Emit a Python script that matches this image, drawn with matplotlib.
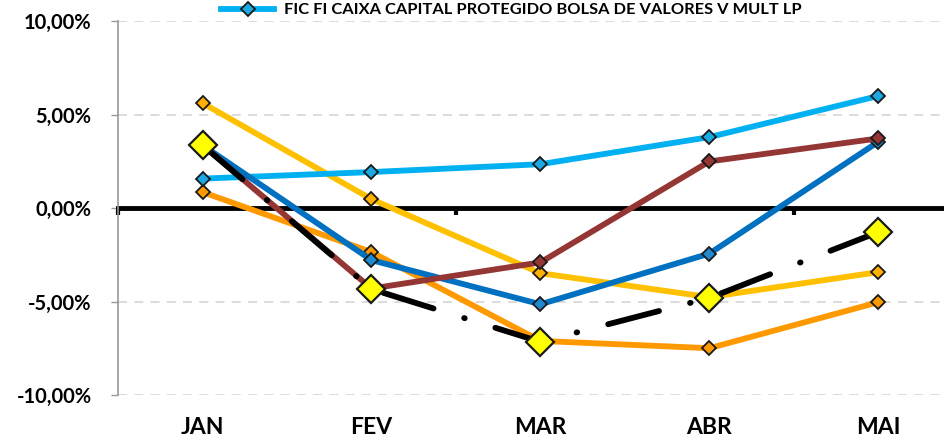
import numpy as np
import matplotlib
matplotlib.use("Agg")
import matplotlib.pyplot as plt
from matplotlib.ticker import FuncFormatter

plt.rcParams['font.family'] = ['Lato', 'DejaVu Sans']
plt.rcParams['font.weight'] = 'bold'

meses = ["JAN", "FEV", "MAR", "ABR", "MAI"]

# rentabilidade mensal (%)
caixa_bolsa = [1.58, 1.93, 2.35, 3.80, 6.00]
serie_ouro = [5.62, 0.48, -3.48, -4.76, -3.42]
serie_laranja = [0.86, -2.35, -7.10, -7.49, -5.03]
serie_azul = [3.37, -2.78, -5.14, -2.43, 3.55]
serie_marrom = [3.37, -4.30, -2.90, 2.50, 3.73]
serie_preta = [3.37, -4.33, -7.15, -4.80, -1.28]

x = np.arange(len(meses))

fig = plt.figure(figsize=(9.45, 4.41), dpi=100)
ax = fig.add_axes([0.1249, 0.104, 0.894, 0.848])

lw = 4.2
ax.plot(x, serie_laranja, color='#FF9900', lw=lw, marker='D', ms=7.5,
        mfc='#FF9900', mec='#1a1a1a', mew=1.3, zorder=3)
ax.plot(x, serie_ouro, color='#FFC000', lw=lw, marker='D', ms=7.5,
        mfc='#FFB000', mec='#1a1a1a', mew=1.3, zorder=3)
l1, = ax.plot(x, caixa_bolsa, color='#00B0F0', lw=lw, marker='D', ms=7.5,
              mfc='#1CA8E0', mec='#1a1a1a', mew=1.3, zorder=4)
ax.plot(x, serie_azul, color='#0070C0', lw=lw, marker='D', ms=7.5,
        mfc='#1F8AD0', mec='#1a1a1a', mew=1.3, zorder=4)
ax.plot(x, serie_marrom, color='#943634', lw=lw, marker='D', ms=7.5,
        mfc='#943634', mec='#1a1a1a', mew=1.3, zorder=5)
ax.plot(x, serie_preta, color='black', lw=4.2, dashes=(9, 5.5, 0.1, 5.5),
        dash_capstyle='round', solid_capstyle='round', marker='D', ms=14,
        mfc='#FFFF00', mec='#1a1a1a', mew=1.6, zorder=6)

ax.set_xlim(-0.5, 4.5)
ax.set_ylim(-10, 10)
ax.set_yticks([-10, -5, 0, 5, 10])
ax.yaxis.set_major_formatter(FuncFormatter(lambda v, p: f"{v:.2f}%".replace('.', ',')))
ax.tick_params(axis='y', length=5, color='#999999', width=1, labelsize=14.5, pad=14)
for v in [-10, -5, 5, 10]:
    ax.axhline(v, color='#d9d9d9', lw=1.3, dashes=(5, 4), zorder=1)

for s in ['top', 'right']:
    ax.spines[s].set_visible(False)
ax.spines['left'].set_color('#999999')
ax.spines['left'].set_linewidth(1.2)
ax.spines['bottom'].set_position(('data', 0))
ax.spines['bottom'].set_linewidth(3.5)
ax.spines['bottom'].set_zorder(2)
ax.set_xticks([-0.5, 1.5, 3.5])
ax.set_xticklabels([])
ax.tick_params(axis='x', length=5, width=3, color='black', direction='out')

sec = ax.secondary_xaxis(0.0)
sec.set_xticks(x)
sec.set_xticklabels(meses)
sec.tick_params(length=0, labelsize=16.5, pad=16)
sec.spines['bottom'].set_visible(False)

fig.legend([l1], ["FIC FI CAIXA CAPITAL PROTEGIDO BOLSA DE VALORES V MULT LP"],
           loc='center', bbox_to_anchor=(0.541, 0.977), frameon=False,
           handlelength=3.2, handletextpad=0.6,
           prop={'weight': 'bold', 'size': 11.8})

fig.savefig("out.png", dpi=100)
